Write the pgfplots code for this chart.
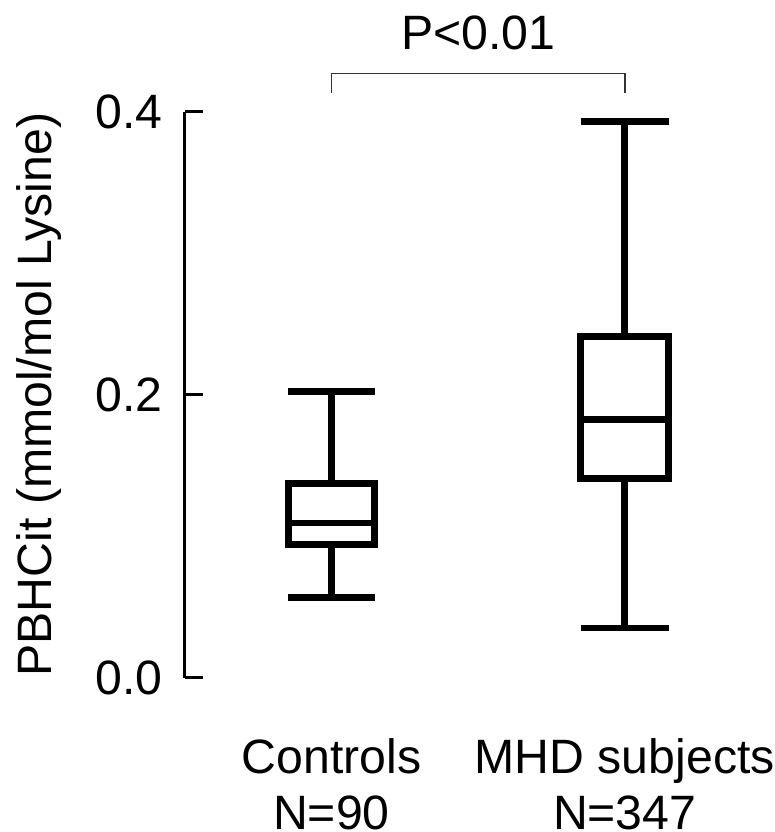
\documentclass[border=0pt]{standalone}
\usepackage{fontspec}
\setmainfont{Liberation Sans}
\usepackage{pgfplots}
\pgfplotsset{compat=1.18}
\usepgfplotslibrary{statistics}
\begin{document}
\fontsize{24.5}{28.5}\selectfont
\begin{tikzpicture}
\begin{axis}[
 scale only axis,
 width=298pt, height=287.5pt,
 xmin=0.5, xmax=2.5, ymin=0, ymax=0.4,
 axis lines*=left,
 x axis line style={draw=none},
 xtick={1,2},
 xticklabels={{Controls\\N=90},{MHD subjects\\N=347}},
 xtick style={draw=none},
 xticklabel style={align=center, inner sep=0pt, yshift=-31pt, text depth=0pt},
 ytick={0,0.2,0.4},
 yticklabel style={/pgf/number format/fixed, /pgf/number format/fixed zerofill,
   /pgf/number format/precision=1, inner sep=0pt, xshift=-11pt},
 /pgf/number format/assume math mode=true,
 tick align=inside,
 major tick length=9pt,
 y axis line style={line width=1.5pt},
 ytick style={line width=1.5pt, black},
 ylabel={PBHCit (mmol/mol Lysine)},
 every axis y label/.style={at={(axis description cs:-0.2282,0.5)}, rotate=90, anchor=base},
 boxplot/draw direction=y,
 clip=false,
]
% controls
\addplot[black, line width=3.5pt, boxplot prepared={draw position=1,
  lower whisker=0.0566, lower quartile=0.0941, median=0.1092,
  upper quartile=0.1374, upper whisker=0.2019,
  box extend=0.295, whisker extend=0.295}] coordinates {};
% MHD subjects
\addplot[black, line width=3.5pt, boxplot prepared={draw position=2,
  lower whisker=0.035, lower quartile=0.1404, median=0.1822,
  upper quartile=0.2408, upper whisker=0.393,
  box extend=0.3, whisker extend=0.3}] coordinates {};

% significance bracket
\draw[line width=0.8pt, black!80] (axis cs:1,0.4132) -- (axis cs:1,0.4271)
  -- (axis cs:2,0.4271) -- (axis cs:2,0.4132);
\node[anchor=base] at (axis cs:1.5,0.4438) {P<0.01};
\path (axis cs:-0.094,-0.1092) rectangle (axis cs:2.497,0.4696);
\end{axis}
\end{tikzpicture}
\end{document}
